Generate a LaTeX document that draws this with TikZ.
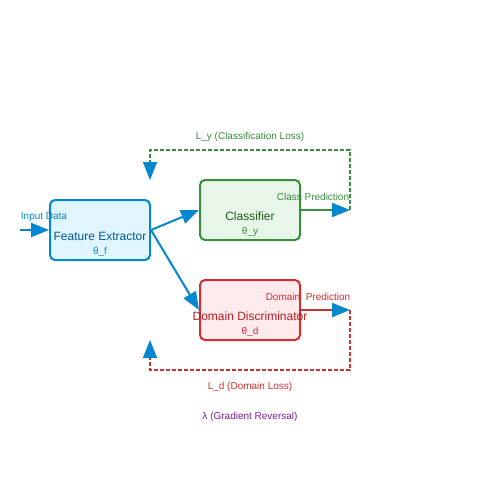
\documentclass[tikz,border=0pt]{standalone}
\usepackage{fontspec}
\setmainfont{Liberation Sans}
\usetikzlibrary{arrows.meta}
\definecolor{bluestroke}{HTML}{0288D1}
\definecolor{bluefill}{HTML}{E1F5FE}
\definecolor{bluetext}{HTML}{01579B}
\definecolor{greenstroke}{HTML}{388E3C}
\definecolor{greenfill}{HTML}{E8F5E9}
\definecolor{greentext}{HTML}{1B5E20}
\definecolor{redstroke}{HTML}{D32F2F}
\definecolor{redfill}{HTML}{FFEBEE}
\definecolor{redtext}{HTML}{B71C1C}
\definecolor{purpletext}{HTML}{7B1FA2}
\tikzset{
  box/.style={draw, line width=2pt, rounded corners=5pt, minimum width=100pt, minimum height=60pt, inner sep=0pt},
  title/.style={font=\fontsize{12}{14}\selectfont, inner sep=0pt},
  small/.style={font=\fontsize{10}{12}\selectfont, inner sep=0pt},
  tip/.style={-{Triangle[length=18pt,width=14pt,color=bluestroke]}},
  flow/.style={draw=bluestroke, line width=2pt, tip},
  dashloop/.style={line width=1.5pt, dash pattern=on 4pt off 2pt, tip},
}
\begin{document}
\begin{tikzpicture}[x=1pt,y=-1pt]
\useasboundingbox (0,0) rectangle (500,500);
% boxes
\node[box, draw=bluestroke, fill=bluefill] (fe) at (100,230) {};
\node[box, draw=greenstroke, fill=greenfill] (cl) at (250,210) {};
\node[box, draw=redstroke, fill=redfill] (dd) at (250,310) {};
% texts
\node[title, text=bluetext] (fet) at (100,236.5) {Feature Extractor};
\node[small, text=bluestroke] (fep) at (100,252) {θ\_f};
\node[title, text=greentext] (clt) at (250,216.5) {Classifier};
\node[small, text=greenstroke] (clp) at (250,232) {θ\_y};
\node[title, text=redtext] (ddt) at (250,316.5) {Domain Discriminator};
\node[small, text=redstroke] (ddp) at (250,332) {θ\_d};
% coordinates
\coordinate (in) at (20,230);
\coordinate (cpend) at (350,210);
\coordinate (dpend) at (350,310);
\coordinate (ytop) at (150,180);
\coordinate (dbot) at (150,340);
% main flow
\draw[flow] (in) -- (fe.west);
\draw[flow] (fe.east) -- (cl.west);
\draw[flow] (fe.east) -- (dd.west);
\draw[draw=greenstroke, line width=2pt, tip] (cl.east) -- (cpend);
\draw[draw=redstroke, line width=2pt, tip] (dd.east) -- (dpend);
% loss loops
\draw[dashloop, draw=greenstroke] (cpend) -- (350,150) -- (150,150) -- (ytop);
\draw[dashloop, draw=redstroke] (dpend) -- (350,370) -- (150,370) -- (dbot);
% labels
\node[small, text=bluestroke] (inl) at (44,217) {Input Data};
\node[small, text=greenstroke] (cpl) at (313,197) {Class Prediction};
\node[small, text=redstroke] (dpl) at (308,297) {Domain\ \ Prediction};
\node[small, text=greenstroke] (ly) at (250,137) {L\_y (Classification Loss)};
\node[small, text=redstroke] (ld) at (250,387) {L\_d (Domain Loss)};
\node[small, text=purpletext] (lam) at (250,417) {λ (Gradient Reversal)};
\end{tikzpicture}
\end{document}
